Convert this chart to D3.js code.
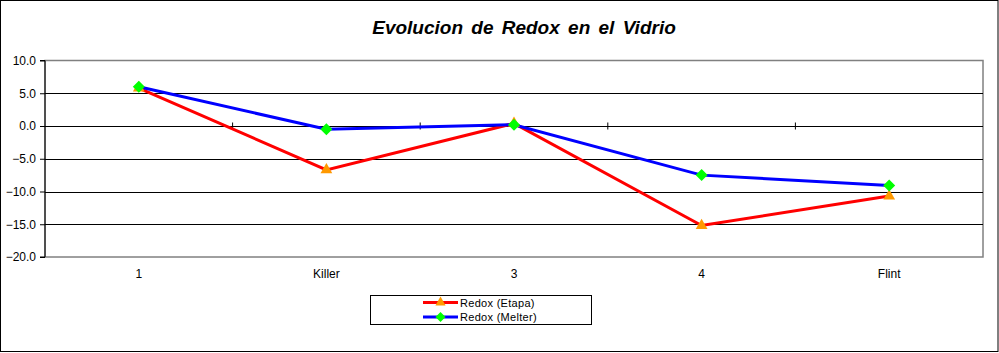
<!DOCTYPE html>
<html><head><meta charset="utf-8">
<script src="https://cdn.jsdelivr.net/npm/d3@7"></script>
<style>body{margin:0;background:#fff}svg{display:block;font-family:Arial,"Liberation Sans",sans-serif}</style>
</head><body><svg id="c" width="999" height="353"></svg>
<script>
const categories = ["1","Killer","3","4","Flint"];
const etapa = [5.8,-6.7,0.4,-15.2,-10.7];
const melter = [6.0,-0.5,0.2,-7.5,-9.1];
const yTicks = [10,5,0,-5,-10,-15,-20];
const seriesNames = ["Redox (Etapa)","Redox (Melter)"];

const svg = d3.select("#c");
svg.append("rect").attr("x",0.5).attr("y",0.5).attr("width",997.5).attr("height",351).attr("fill","#fff").attr("stroke","#000").attr("stroke-width",1);

const L=45,R=983,T=60.5,B=257;
const x = d3.scaleBand().domain(categories).range([L,R]);
const y = d3.scaleLinear().domain([-20,10]).range([B,T]);

svg.append("text").attr("x",524).attr("y",34).attr("text-anchor","middle")
  .attr("font-size",19).attr("font-weight","bold").attr("font-style","italic").attr("word-spacing","3")
  .text("Evolucion de Redox en el Vidrio");

svg.append("rect").attr("x",L).attr("y",T).attr("width",R-L).attr("height",B-T).attr("fill","none").attr("stroke","#808080").attr("stroke-width",1.5);

svg.append("g").selectAll("line").data(yTicks.filter(d=>d>-20&&d<10)).join("line")
  .attr("x1",L).attr("x2",R).attr("y1",d=>Math.round(y(d))+0.5).attr("y2",d=>Math.round(y(d))+0.5)
  .attr("stroke","#000").attr("stroke-width",1.2);

const yAxis = d3.axisLeft(y).tickValues(yTicks).tickFormat(d3.format(".1f")).tickSize(5).tickPadding(4);
const gy = svg.append("g").attr("transform",`translate(${L},0)`).call(yAxis);
gy.select(".domain").attr("stroke","#000").attr("d",`M-5,${T}H0V${B}H-5`);
gy.selectAll(".tick line").attr("stroke","#000");
gy.selectAll("text").attr("font-size",12).attr("fill","#000").attr("font-family","Arial,'Liberation Sans',sans-serif");

const y0 = Math.round(y(0))+0.5;
const bounds = categories.slice(1).map(c=>x(c));
svg.append("g").selectAll("line").data(bounds).join("line")
  .attr("x1",d=>d).attr("x2",d=>d).attr("y1",y0-4).attr("y2",y0+3).attr("stroke","#000");
svg.append("g").selectAll("text").data(categories).join("text")
  .attr("x",d=>x(d)+x.bandwidth()/2).attr("y",278).attr("text-anchor","middle").attr("font-size",12).text(d=>d);

const cx = d=>x(d)+x.bandwidth()/2;
const line = d3.line().x((d,i)=>cx(categories[i])).y(d=>y(d));

svg.append("path").datum(etapa).attr("d",line).attr("fill","none").attr("stroke","#ff0000").attr("stroke-width",3);
svg.append("path").datum(melter).attr("d",line).attr("fill","none").attr("stroke","#0000ff").attr("stroke-width",3);

const tri = d3.symbol().type(d3.symbolTriangle).size(60);
const dia = d3.symbol().type(d3.symbolSquare).size(72);
svg.append("g").selectAll("path").data(etapa).join("path")
  .attr("d",tri).attr("transform",(d,i)=>`translate(${cx(categories[i])},${y(d)})`).attr("fill","#ff9900");
svg.append("g").selectAll("path").data(melter).join("path")
  .attr("d",dia).attr("transform",(d,i)=>`translate(${cx(categories[i])},${y(d)}) rotate(45)`).attr("fill","#00ff00");

const lg = svg.append("g");
lg.append("rect").attr("x",370.5).attr("y",295.5).attr("width",221).attr("height",29).attr("fill","#fff").attr("stroke","#000");
const cols = [["#ff0000","#ff9900"],["#0000ff","#00ff00"]];
seriesNames.forEach((n,i)=>{
  const yy = 302.5+i*14.5;
  lg.append("line").attr("x1",423).attr("x2",458).attr("y1",yy).attr("y2",yy).attr("stroke",cols[i][0]).attr("stroke-width",3);
  lg.append("path").attr("d",i===0?d3.symbol().type(d3.symbolTriangle).size(45)():d3.symbol().type(d3.symbolSquare).size(50)())
    .attr("transform",`translate(440.5,${yy})${i===1?" rotate(45)":""}`).attr("fill",cols[i][1]);
  lg.append("text").attr("x",460).attr("y",yy+4).attr("font-size",11).attr("letter-spacing","0.3").text(n);
});
</script></body></html>
